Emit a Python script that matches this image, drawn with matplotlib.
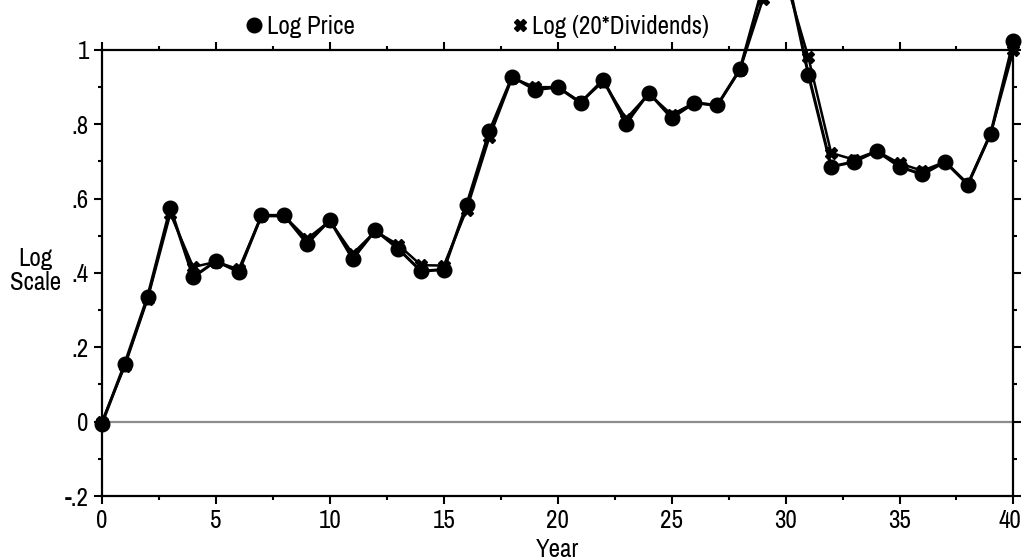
import matplotlib
matplotlib.use("Agg")
import matplotlib.pyplot as plt
import matplotlib.transforms as mtransforms
from matplotlib.ticker import MultipleLocator, FixedLocator, FixedFormatter
from matplotlib import font_manager

years = list(range(0, 41))
log_price = [-0.005, 0.156, 0.336, 0.575, 0.389, 0.432, 0.403, 0.555, 0.555, 0.479,
             0.542, 0.438, 0.515, 0.465, 0.405, 0.409, 0.583, 0.781, 0.928, 0.893,
             0.900, 0.858, 0.920, 0.802, 0.885, 0.817, 0.858, 0.851, 0.948, 1.17,
             1.22, 0.934, 0.686, 0.699, 0.728, 0.686, 0.665, 0.699, 0.638, 0.775,
             1.024]
log_div = [0.000, 0.150, 0.330, 0.560, 0.416, 0.430, 0.410, 0.553, 0.553, 0.492,
           0.540, 0.452, 0.512, 0.476, 0.421, 0.420, 0.570, 0.765, 0.925, 0.900,
           0.900, 0.860, 0.915, 0.815, 0.882, 0.826, 0.858, 0.851, 0.947, 1.136,
           1.19, 0.980, 0.723, 0.705, 0.728, 0.695, 0.675, 0.699, 0.640, 0.775,
           1.000]
ytick_vals = [-0.2, 0.0, 0.2, 0.4, 0.6, 0.8, 1.0]
ytick_labels = ["-.2", "0", ".2", ".4", ".6", ".8", "1"]
xtick_vals = [0, 5, 10, 15, 20, 25, 30, 35, 40]

# pick a condensed sans font if one is installed
fam, stretch = "Liberation Sans", "normal"
pref = []
for f in font_manager.fontManager.ttflist:
    nm = f.name
    st = str(f.stretch)
    if f.style != "normal" or f.weight not in (400, "normal", "regular"):
        continue
    if "Narrow" in nm:
        pref.append((0, nm, st))
    elif "Condensed" in nm:
        pref.append((1, nm, st))
    elif st in ("condensed", "semi-condensed", "extra-condensed"):
        pref.append((2, nm, st))
if pref:
    pref.sort()
    fam, stretch = pref[0][1], pref[0][2]
plt.rcParams["font.family"] = [fam, "DejaVu Sans"]
plt.rcParams["font.stretch"] = stretch
FS = 18 if pref else 14

fig = plt.figure(figsize=(10.24, 5.59), dpi=100)
ax = fig.add_axes([0.0996, 0.1127, 0.8901, 0.7979])

ax.axhline(0, color="#8c8c8c", lw=1.6, zorder=1)
l2, = ax.plot(years, log_div, color="black", lw=1.8, marker="X", ms=8,
              mec="black", mfc="black", clip_on=False, zorder=3,
              label="Log (20*Dividends)")
l1, = ax.plot(years, log_price, color="black", lw=2.2, marker="o", ms=10.5,
              clip_on=False, zorder=4, label="Log Price")

ax.set_xlim(0, 40)
ax.set_ylim(-0.2, 1.0)
ax.xaxis.set_major_locator(FixedLocator(xtick_vals))
ax.xaxis.set_minor_locator(MultipleLocator(2.5))
ax.yaxis.set_major_locator(FixedLocator(ytick_vals))
ax.yaxis.set_major_formatter(FixedFormatter(ytick_labels))
ax.yaxis.set_minor_locator(MultipleLocator(0.1))

for s in ax.spines.values():
    s.set_linewidth(1.6)
ax.tick_params(which="both", direction="out", top=True, right=True,
               labeltop=False, labelright=False, width=1.5)
ax.tick_params(which="major", length=5.5, labelsize=FS)
ax.tick_params(axis="x", which="major", pad=4)
ax.tick_params(axis="y", which="major", pad=4)
ax.tick_params(which="minor", length=3)

# nudge the last x tick label slightly left so it stays inside the figure
fig.canvas.draw()
last = ax.xaxis.get_major_ticks()[-1].label1
last.set_transform(last.get_transform() +
                   mtransforms.ScaledTranslation(-4 / 100, 0, fig.dpi_scale_trans))

ax.set_xlabel("Year", fontsize=FS, labelpad=0, va="center")
ax.xaxis.set_label_coords(0.5, -0.12)
ax.set_ylabel("Log\nScale", fontsize=FS, rotation=0, ha="center", va="center",
              linespacing=1.05)
ax.yaxis.set_label_coords(-0.073, 0.505)

leg = ax.legend(handles=[l1, l2], ncol=2, frameon=False, fontsize=FS,
                loc="center left", bbox_to_anchor=(0.159, 1.053),
                handlelength=0.6, handletextpad=0.2, columnspacing=6.3,
                borderaxespad=0, borderpad=0)
for h in leg.legend_handles:
    h.set_linestyle("none")

fig.savefig("out.png", dpi=100)
